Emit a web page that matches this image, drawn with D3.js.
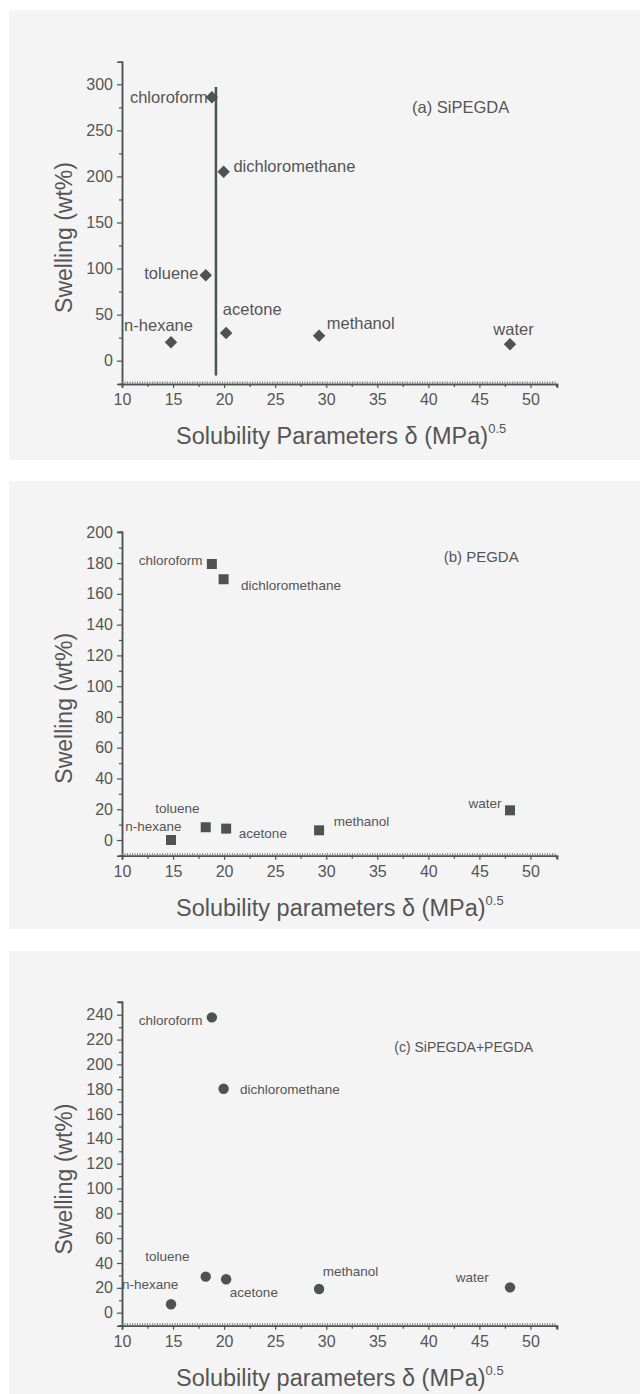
<!DOCTYPE html>
<html>
<head>
<meta charset="utf-8">
<script src="https://cdn.jsdelivr.net/npm/d3@7/dist/d3.min.js"></script>
<style>
  body { margin: 0; background: #fff; }
  svg text { font-family: "Liberation Sans", Arial, sans-serif; fill: #555; }
</style>
</head>
<body>
<div id="chart"></div>
<script>
// solvents and their solubility parameters (MPa^0.5)
var solvents = ["chloroform", "dichloromethane", "toluene", "n-hexane", "acetone", "methanol", "water"];
var delta = [18.8, 19.95, 18.2, 14.8, 20.2, 29.3, 48.0];

// swelling (wt%) for each network
var swellA = [286, 205, 92.7, 20, 30, 27, 17.8];
var swellB = [179.4, 169.5, 8.3, 0, 7.4, 6.3, 19.3];
var swellC = [237.9, 180.4, 29, 6.8, 26.9, 19.1, 20.4];

// vertical guide line in panel (a)
var guideX = [19.2, 19.2];
var guideY = [-16, 297];

var xTicks = [10, 15, 20, 25, 30, 35, 40, 45, 50];
var yTicksA = [0, 50, 100, 150, 200, 250, 300];
var yTicksB = [0, 20, 40, 60, 80, 100, 120, 140, 160, 180, 200];
var yTicksC = [0, 20, 40, 60, 80, 100, 120, 140, 160, 180, 200, 220, 240];

var titles = ["(a) SiPEGDA", "(b) PEGDA", "(c) SiPEGDA+PEGDA"];
var xTitles = ["Solubility Parameters \u03b4 (MPa)", "Solubility parameters \u03b4 (MPa)", "Solubility parameters \u03b4 (MPa)"];

var width = 640, height = 1394;
var ink = "#4d5252";

var panels = [{
    bg: [10, 460], yDom: [-25.3, 324.5], yRange: [384, 61.7], ticks: yTicksA, minorStep: 25,
    values: swellA, symbol: "diamond", labelSize: 16.5, titleSize: 16.5, titlePos: [38.4, 275.7],
    labels: [["end", -4, 0], ["start", 9.8, -5.3], ["end", -7.3, -2], ["start", -46.9, -17.3],
             ["start", -3.3, -23.7], ["start", 7.7, -13], ["start", -16.7, -15.3]],
    yTitleY: 237.5, xTitleY: 444
}, {
    bg: [481, 929], yDom: [-10.2, 200.4], yRange: [855.7, 531.7], ticks: yTicksB, minorStep: 10,
    values: swellB, symbol: "square", labelSize: 13.5, titleSize: 15, titlePos: [41.5, 184.1],
    labels: [["end", -9.3, -4], ["start", 17.5, 5.7], ["start", -50.6, -19], ["start", -45.7, -14.3],
             ["start", 12.7, 4.6], ["start", 14.7, -9.3], ["end", -8.6, -7.6]],
    yTitleY: 708.3, xTitleY: 916
}, {
    bg: [951, 1394], yDom: [-10.5, 250.5], yRange: [1325.7, 1001.7], ticks: yTicksC, minorStep: 10,
    values: swellC, symbol: "circle", labelSize: 13.5, titleSize: 14, titlePos: [36.66, 214.2],
    labels: [["end", -9.3, 2.7], ["start", 16.3, 0.3], ["start", -60.4, -20.7], ["start", -49, -20.3],
             ["start", 3.7, 13], ["start", 3.6, -17.7], ["start", -54.3, -10]],
    yTitleY: 1179, xTitleY: 1386
}];

var svg = d3.select("#chart").append("svg").attr("width", width).attr("height", height);
svg.append("rect").attr("width", width).attr("height", height).attr("fill", "#fff");

var x = d3.scaleLinear().domain([10, 52.6]).range([122, 557]);

panels.forEach(function(p, pi) {
    var g = svg.append("g");
    g.append("rect").attr("x", 9).attr("y", p.bg[0]).attr("width", width - 9).attr("height", p.bg[1] - p.bg[0]).attr("fill", "#f4f4f4");

    var y = d3.scaleLinear().domain(p.yDom).range(p.yRange);
    var x0 = x.range()[0], yb = p.yRange[0];

    // minor ticks
    var yMinor = d3.range(Math.ceil(p.yDom[0] / p.minorStep) * p.minorStep, p.yDom[1], p.minorStep)
        .filter(function(v) { return p.ticks.indexOf(v) < 0; });
    var yAxisMinor = d3.axisLeft(y).tickValues(yMinor).tickSize(3).tickFormat("");
    var xAxisMinor = d3.axisBottom(x).tickValues(d3.range(12.5, 52.6, 5)).tickSize(3).tickFormat("");
    g.append("g").attr("transform", "translate(" + x0 + ",0)").call(yAxisMinor);
    g.append("g").attr("transform", "translate(0," + yb + ")").call(xAxisMinor);

    var yAxis = d3.axisLeft(y).tickValues(p.ticks).tickSize(5).tickPadding(4);
    var xAxis = d3.axisBottom(x).tickValues(xTicks).tickSize(4).tickPadding(6);
    g.append("g").attr("transform", "translate(" + x0 + ",0)").call(yAxis);
    g.append("g").attr("transform", "translate(0," + yb + ")").call(xAxis);

    g.selectAll(".domain").attr("stroke", ink).attr("stroke-width", 1.5);
    g.selectAll(".tick line").attr("stroke", ink).attr("stroke-width", 1.2);
    g.selectAll(".tick text").style("font-size", "16px").attr("fill", "#555");

    // hatched look of the bottom axis
    g.append("line").attr("x1", x0).attr("x2", x.range()[1]).attr("y1", yb - 1.5).attr("y2", yb - 1.5)
        .attr("stroke", "#777").attr("stroke-width", 2).attr("stroke-dasharray", "1,1.5");

    if (pi === 0) {
        g.append("line").attr("x1", x(guideX[0])).attr("x2", x(guideX[1]))
            .attr("y1", y(guideY[0])).attr("y2", y(guideY[1]))
            .attr("stroke", ink).attr("stroke-width", 2.5);
    }

    var sym = p.symbol === "diamond" ? d3.symbol().type(d3.symbolSquare).size(78)
            : p.symbol === "square" ? d3.symbol().type(d3.symbolSquare).size(100)
            : d3.symbol().type(d3.symbolCircle).size(85);

    g.selectAll(".pt").data(p.values).enter().append("path")
        .attr("d", sym)
        .attr("fill", ink)
        .attr("transform", function(d, i) {
            return "translate(" + x(delta[i]) + "," + y(d) + ")" + (p.symbol === "diamond" ? " rotate(45)" : "");
        });

    g.selectAll(".lbl").data(p.values).enter().append("text")
        .attr("x", function(d, i) { return x(delta[i]) + p.labels[i][1]; })
        .attr("y", function(d, i) { return y(d) + p.labels[i][2]; })
        .attr("dy", "0.36em")
        .attr("text-anchor", function(d, i) { return p.labels[i][0]; })
        .style("font-size", p.labelSize + "px")
        .text(function(d, i) { return solvents[i]; });

    g.append("text").attr("x", x(p.titlePos[0])).attr("y", y(p.titlePos[1])).attr("dy", "0.36em")
        .style("font-size", p.titleSize + "px").text(titles[pi]);

    // axis titles
    g.append("text").attr("transform", "translate(64," + p.yTitleY + ") rotate(-90)")
        .attr("text-anchor", "middle").attr("dy", "0.36em")
        .style("font-size", "23px").text("Swelling (wt%)");

    var xt = g.append("text").attr("x", 176).attr("y", p.xTitleY).style("font-size", "23.5px");
    xt.append("tspan").text(xTitles[pi]);
    xt.append("tspan").attr("dy", -11).style("font-size", "13px").text("0.5");
});
</script>
</body>
</html>
